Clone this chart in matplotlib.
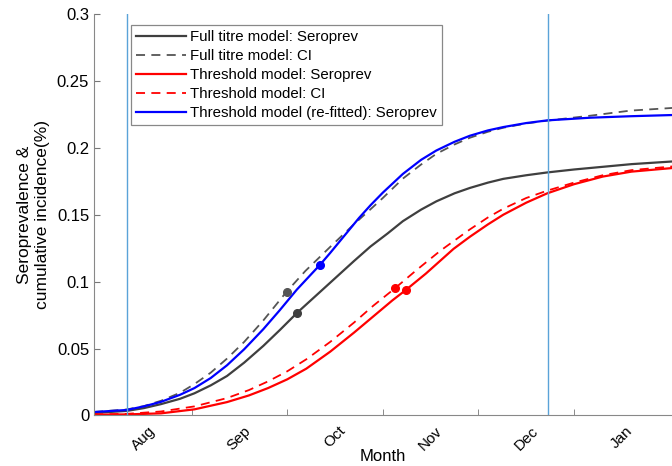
import matplotlib.pyplot as plt
from matplotlib.ticker import FixedLocator

plt.rcParams["font.family"] = ["Liberation Sans", "DejaVu Sans"]

# -----------------------------
# Data (x in months after 1 Aug)
# -----------------------------
full_sero_x = [-0.02, 0.32, 0.5, 0.68, 0.88, 1.03, 1.2, 1.37, 1.55, 1.75, 1.925, 2.106, 2.3, 2.5, 2.7,
               2.87, 3.05, 3.21, 3.4, 3.56, 3.75, 3.91, 4.1, 4.26, 4.5, 4.72, 5.0, 5.3, 5.6, 6.03]
full_sero = [0.0019, 0.0034, 0.0055, 0.0085, 0.0125, 0.0166, 0.0225, 0.0295, 0.0395, 0.052, 0.064, 0.0769,
             0.0895, 0.1025, 0.1155, 0.1262, 0.136, 0.1452, 0.1538, 0.1600, 0.1660, 0.1700, 0.1740,
             0.1768, 0.1795, 0.1816, 0.1838, 0.1858, 0.1878, 0.1898]

full_ci_x = [-0.02, 0.32, 0.5, 0.68, 0.88, 1.03, 1.2, 1.37, 1.55, 1.75, 1.995, 2.19, 2.45, 2.7, 2.87,
             3.0, 3.21, 3.4, 3.56, 3.75, 3.91, 4.1, 4.26, 4.5, 4.72, 5.17, 5.59, 6.03]
full_ci = [0.0026, 0.0045, 0.0070, 0.0110, 0.0170, 0.0235, 0.0320, 0.0425, 0.0550, 0.0710, 0.0926,
           0.1080, 0.1260, 0.1430, 0.1540, 0.1625, 0.1770, 0.1875, 0.1955, 0.2025, 0.2075, 0.2120,
           0.2150, 0.2182, 0.2203, 0.2240, 0.2278, 0.2298]

thr_sero_x = [-0.02, 0.32, 0.68, 1.03, 1.37, 1.6, 1.8, 2.0, 2.2, 2.45, 2.7, 2.9, 3.1, 3.243, 3.45,
              3.74, 3.91, 4.1, 4.26, 4.5, 4.72, 5.0, 5.3, 5.6, 6.03]
thr_sero = [0.0006, 0.0008, 0.0016, 0.0046, 0.0100, 0.0150, 0.0205, 0.0270, 0.0350, 0.0477, 0.0620,
            0.0740, 0.0860, 0.0939, 0.1060, 0.1245, 0.1335, 0.1428, 0.1500, 0.1590, 0.1660, 0.1728,
            0.1785, 0.1822, 0.1849]

thr_ci_x = [-0.02, 0.32, 0.68, 1.03, 1.37, 1.6, 1.8, 2.0, 2.2, 2.45, 2.7, 2.9, 3.128, 3.35, 3.6,
            3.91, 4.1, 4.26, 4.5, 4.72, 5.0, 5.3, 5.6, 6.03]
thr_ci = [0.0008, 0.0012, 0.0030, 0.0068, 0.0130, 0.0190, 0.0255, 0.0330, 0.0420, 0.0550, 0.0695,
          0.0820, 0.0951, 0.1085, 0.1230, 0.1390, 0.1480, 0.1545, 0.1625, 0.1680, 0.1740, 0.1795,
          0.1833, 0.1861]

refit_x = [-0.02, 0.32, 0.5, 0.68, 0.88, 1.03, 1.2, 1.37, 1.55, 1.75, 1.92, 2.1, 2.343, 2.45, 2.6,
           2.75, 2.87, 3.0, 3.21, 3.4, 3.56, 3.75, 3.91, 4.1, 4.26, 4.5, 4.72, 5.17, 5.59, 6.03]
refit_sero = [0.0026, 0.0041, 0.0068, 0.0102, 0.0155, 0.0205, 0.0280, 0.0375, 0.0495, 0.0645, 0.0785,
              0.0940, 0.1126, 0.1215, 0.1345, 0.1475, 0.1570, 0.1665, 0.1805, 0.1910, 0.1980, 0.2045,
              0.2090, 0.2130, 0.2155, 0.2185, 0.2205, 0.2225, 0.2236, 0.2245]

# highlighted points
dot_x = {"full_ci": 1.995, "full_sero": 2.106, "refit": 2.343, "thr_ci": 3.128, "thr_sero": 3.243}
dot_y = {"full_ci": 0.0926, "full_sero": 0.0769, "refit": 0.1126, "thr_ci": 0.0951, "thr_sero": 0.0939}

vlines_x = [0.322, 4.726]
month_names = ["Aug", "Sep", "Oct", "Nov", "Dec", "Jan"]

# -----------------------------
# Plot
# -----------------------------
fig = plt.figure(figsize=(6.72, 4.66), dpi=100)
ax = fig.add_axes([0.1399, 0.1084, 0.8601, 0.8616])

gray = "#3f3f3f"
ax.plot(full_sero_x, full_sero, color=gray, lw=1.6, label="Full titre model: Seroprev")
ax.plot(full_ci_x, full_ci, color="#555555", lw=1.3, ls=(0, (5, 3.5)), label="Full titre model: CI")
ax.plot(thr_sero_x, thr_sero, color="#ff0000", lw=1.6, label="Threshold model: Seroprev")
ax.plot(thr_ci_x, thr_ci, color="#ff0000", lw=1.3, ls=(0, (5, 3.5)), label="Threshold model: CI")
ax.plot(refit_x, refit_sero, color="#0000ff", lw=1.6, label="Threshold model (re-fitted): Seroprev")

ax.plot(dot_x["full_ci"], dot_y["full_ci"], "o", color="#555555", ms=5.5)
ax.plot(dot_x["full_sero"], dot_y["full_sero"], "o", color=gray, ms=5.5)
ax.plot(dot_x["refit"], dot_y["refit"], "o", color="#0000ff", ms=5.5)
ax.plot(dot_x["thr_ci"], dot_y["thr_ci"], "o", color="#ff0000", ms=5.5)
ax.plot(dot_x["thr_sero"], dot_y["thr_sero"], "o", color="#ff0000", ms=5.5)

for vx in vlines_x:
    ax.axvline(vx, color="#5aa3d8", lw=1.0)

ax.set_xlim(-0.021, 6.025)
ax.set_ylim(0, 0.3)

# month labels at mid-month, tick marks at month boundaries
ax.xaxis.set_major_locator(FixedLocator([k + 0.5 for k in range(len(month_names))]))
ax.set_xticklabels(month_names, rotation=45, fontsize=11)
ax.xaxis.set_minor_locator(FixedLocator([1, 2, 3, 4, 5]))
ax.tick_params(axis="x", which="major", length=0, pad=6)
ax.tick_params(axis="x", which="minor", direction="in", length=4, color="#777777")
ax.set_yticks([0, 0.05, 0.1, 0.15, 0.2, 0.25, 0.3])
ax.set_yticklabels(["0", "0.05", "0.1", "0.15", "0.2", "0.25", "0.3"], fontsize=12)
ax.tick_params(axis="y", direction="in", length=4, color="#777777")

for s in ["top", "right"]:
    ax.spines[s].set_visible(False)
for s in ["left", "bottom"]:
    ax.spines[s].set_color("#888888")

ax.set_xlabel("Month", fontsize=12, labelpad=-3)
ax.set_ylabel("Seroprevalence &\ncumulative incidence(%)", fontsize=12.5, labelpad=5)

leg = ax.legend(loc="upper left", bbox_to_anchor=(0.064, 0.973), borderaxespad=0, fontsize=10.8,
                handlelength=3.3, handletextpad=0.3, labelspacing=0.33,
                borderpad=0.35, fancybox=False, framealpha=1)
leg.get_frame().set_edgecolor("#888888")
leg.get_frame().set_linewidth(0.9)

fig.savefig("out.png", dpi=100)
